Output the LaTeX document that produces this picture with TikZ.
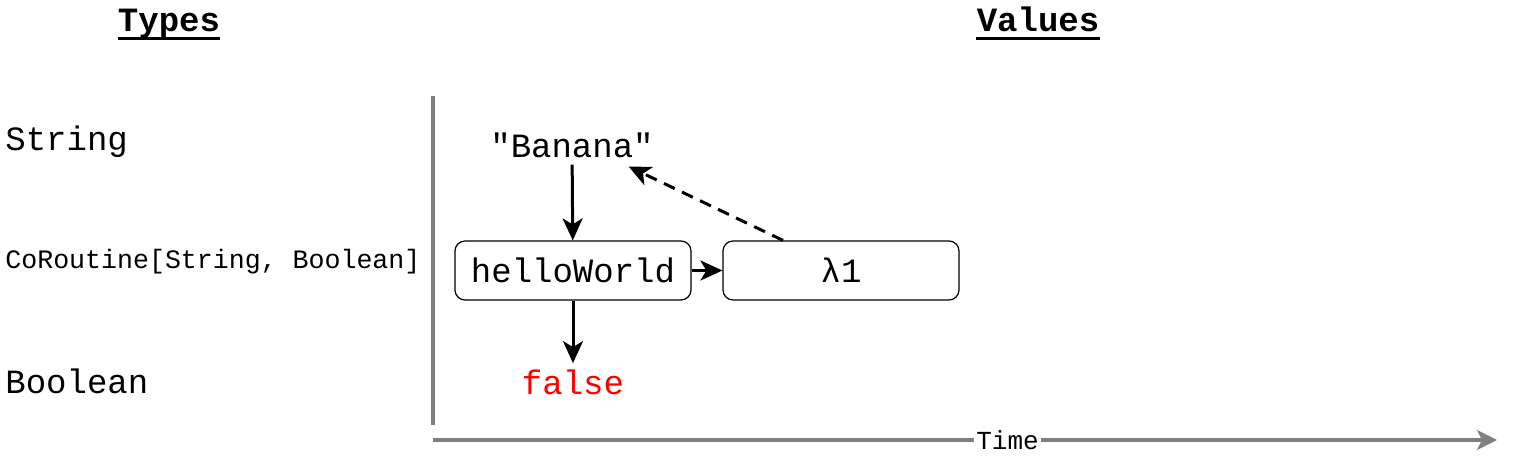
\documentclass[tikz,border=0pt]{standalone}
\usepackage{fontspec}
\setmonofont{Liberation Mono}
\usepackage{xcolor}
\usepackage{tikz}
\usetikzlibrary{positioning,arrows.meta}

\definecolor{axisgray}{HTML}{808080}
\definecolor{falsered}{HTML}{FF0000}

\begin{document}
\begin{tikzpicture}[x=0.5pt, y=-0.5pt,
    big/.style={font=\ttfamily\fontsize{17}{20}\selectfont},
    head/.style={font=\ttfamily\bfseries\fontsize{17}{20}\selectfont, inner sep=0pt, text depth=3pt},
    valbox/.style={big, draw, rounded corners=5pt, line width=0.6pt, minimum width=118pt, minimum height=29.5pt},
    flow/.style={-{Stealth[length=11pt, width=10pt, inset=3pt]}, line width=1.5pt},
    axis/.style={axisgray, line width=1.6pt}]
\useasboundingbox (0,0) rectangle (1515,459);

\node[head, anchor=base] (types) at (169,32) {Types};
\node[head, anchor=base] (values) at (1038,32) {Values};
\draw[line width=1.5pt] (types.south west) -- (types.south east);
\draw[line width=1.5pt] (values.south west) -- (values.south east);

\node[big, anchor=west, inner sep=0pt] (t_string) at (5,142) {String};
\node[anchor=west, inner sep=0pt, font=\ttfamily\fontsize{13.3}{16}\selectfont] (t_coroutine) at (5,262) {CoRoutine[String, Boolean]};
\node[big, anchor=west, inner sep=0pt] (t_boolean) at (5,381) {Boolean};

\node[big] (banana) at (572,145) {"Banana"};
\node[valbox] (hello) at (573,270.5) {helloWorld};
\node[valbox] (lambda) at (841,270.5) {λ1};
\node[big, text=falsered, inner sep=3pt] (false) at (573,382) {false};

\draw[flow] (banana) -- (hello);
\draw[flow] (hello) -- (lambda);
\draw[flow] (hello) -- (false);
\draw[flow, dash pattern=on 6pt off 4pt] ([xshift=-29pt]lambda.north) -- ([xshift=-16pt,yshift=-1pt]banana.south east);

\coordinate (origin) at (433,440);
\coordinate (top) at (433,96);
\coordinate (vend) at (433,425);
\coordinate (tend) at (1497,440);
\draw[axis] (top) -- (vend);
\draw[axis, -{Stealth[length=10pt, width=10pt, inset=2.5pt]}] (origin) -- (tend)
    node[pos=0.54, fill=white, inner sep=1pt, text=black, font=\ttfamily\fontsize{13}{15}\selectfont] {Time};

\end{tikzpicture}
\end{document}
